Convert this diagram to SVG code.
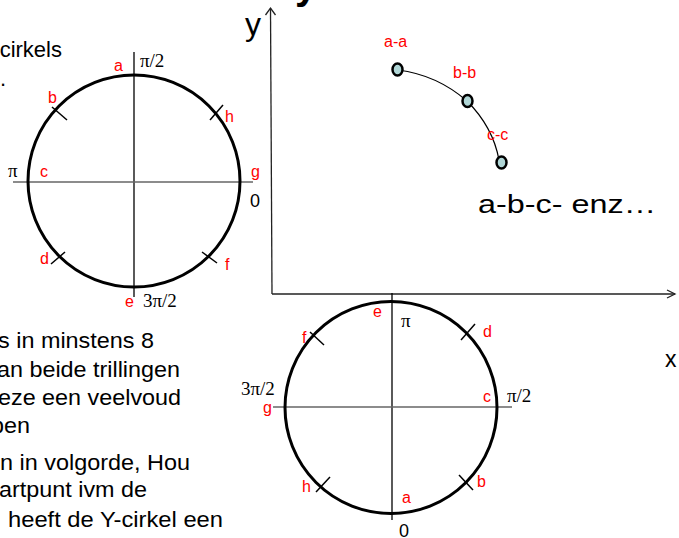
<svg xmlns="http://www.w3.org/2000/svg" width="679" height="538" viewBox="0 0 679 538">
<style>
.txt{font-family:"Liberation Sans",Arial,sans-serif;fill:#000}
.body{font-size:22px;text-anchor:end}
.lbl{font-family:"Liberation Sans",Arial,sans-serif;font-size:16px;fill:#ff0000}
.sym{font-family:"Liberation Serif","Times New Roman",serif;font-size:19px;fill:#000}
.num{font-family:"Liberation Sans",Arial,sans-serif;font-size:18px;fill:#000}
.circ{fill:none;stroke:#000;stroke-width:3}
.vax{stroke:#000;stroke-width:1.3}
.hax{stroke:#666;stroke-width:1.5}
.tick{stroke:#000;stroke-width:1.5}
.axis{stroke:#222;stroke-width:1.3;fill:none}
.pt{fill:#b0d6d6;stroke:#000;stroke-width:2.5}
</style>

<g id="left-text">
<text class="txt body" x="62" y="57">cirkels</text>
<text class="txt body" x="6" y="86">.</text>
<text class="txt body" x="154" y="348" textLength="156" lengthAdjust="spacingAndGlyphs">s in minstens 8</text>
<text class="txt body" x="180" y="377" textLength="183" lengthAdjust="spacingAndGlyphs">an beide trillingen</text>
<text class="txt body" x="181" y="405" textLength="183" lengthAdjust="spacingAndGlyphs">eze een veelvoud</text>
<text class="txt body" x="30" y="433" textLength="39" lengthAdjust="spacingAndGlyphs">ben</text>
<text class="txt body" x="190" y="470" textLength="190" lengthAdjust="spacingAndGlyphs">n in volgorde, Hou</text>
<text class="txt body" x="147" y="497" textLength="148" lengthAdjust="spacingAndGlyphs">artpunt ivm de</text>
<text class="txt body" x="223" y="527" textLength="215" lengthAdjust="spacingAndGlyphs">heeft de Y-cirkel een</text>
</g>

<g id="title-fragment">
<text x="295" y="-1" font-family="Liberation Sans,Arial,sans-serif" font-weight="bold" font-size="40" fill="#000">y</text>
</g>

<g id="x-circle">
<line class="vax" x1="134" y1="52" x2="134" y2="297"/>
<line class="hax" x1="13" y1="182" x2="253" y2="182"/>
<circle class="circ" cx="134" cy="181" r="106"/>
<line class="tick" x1="52" y1="107" x2="67" y2="120"/>
<line class="tick" x1="210" y1="120" x2="223" y2="105"/>
<line class="tick" x1="51" y1="264" x2="65" y2="252"/>
<line class="tick" x1="202" y1="252" x2="217" y2="263"/>
<text class="lbl" x="114" y="71">a</text>
<text class="sym" x="140" y="67">π/2</text>
<text class="lbl" x="48" y="103">b</text>
<text class="lbl" x="225" y="122">h</text>
<text class="sym" x="8" y="177">π</text>
<text class="lbl" x="40" y="177">c</text>
<text class="lbl" x="251" y="177">g</text>
<text class="num" x="250" y="207">0</text>
<text class="lbl" x="40" y="264">d</text>
<text class="lbl" x="225" y="270">f</text>
<text class="lbl" x="125" y="307">e</text>
<text class="sym" x="143" y="307">3π/2</text>
</g>

<g id="connectors">
<path class="axis" d="M272,294 L270.5,8"/>
<path class="axis" d="M265.5,15 L270.5,8 L275.5,15"/>
<path class="axis" d="M272,294 L675,294"/>
<path class="axis" d="M667,290 L675,294 L667,298"/>
<path d="M398,70 C430,74 452,88 467,101 C484,118 495,138 499,160" fill="none" stroke="#000" stroke-width="1.2"/>
</g>

<g id="axis-labels">
<text class="txt" x="245" y="35" font-size="32">y</text>
<text class="txt" x="665" y="367" font-size="23">x</text>
</g>

<g id="point-aa">
<ellipse class="pt" cx="397.5" cy="69.5" rx="5" ry="6"/>
<text class="lbl" x="384" y="47">a-a</text>
</g>
<g id="point-bb">
<ellipse class="pt" cx="467.5" cy="101" rx="5" ry="6"/>
<text class="lbl" x="453" y="78">b-b</text>
</g>
<g id="point-cc">
<ellipse class="pt" cx="501.5" cy="162.5" rx="5" ry="6"/>
<text class="lbl" x="487" y="140">c-c</text>
</g>

<g id="caption">
<text class="txt" x="478" y="213" font-size="25" textLength="178" lengthAdjust="spacingAndGlyphs">a-b-c- enz…</text>
</g>

<g id="y-circle">
<line class="vax" x1="392" y1="293" x2="392" y2="520"/>
<line class="hax" x1="273" y1="407" x2="512" y2="407"/>
<circle class="circ" cx="391" cy="407.5" r="106"/>
<line class="tick" x1="461" y1="340" x2="475" y2="324"/>
<line class="tick" x1="310" y1="332" x2="324" y2="345"/>
<line class="tick" x1="316" y1="492" x2="330" y2="477"/>
<line class="tick" x1="459" y1="475" x2="473" y2="490"/>
<text class="lbl" x="373" y="317">e</text>
<text class="sym" x="401" y="327">π</text>
<text class="lbl" x="483" y="337">d</text>
<text class="lbl" x="302" y="343">f</text>
<text class="sym" x="241" y="395">3π/2</text>
<text class="lbl" x="263" y="413">g</text>
<text class="lbl" x="483" y="402">c</text>
<text class="sym" x="507" y="402">π/2</text>
<text class="lbl" x="302" y="492">h</text>
<text class="lbl" x="477" y="487">b</text>
<text class="lbl" x="402" y="503">a</text>
<text class="num" x="399" y="537">0</text>
</g>
</svg>
